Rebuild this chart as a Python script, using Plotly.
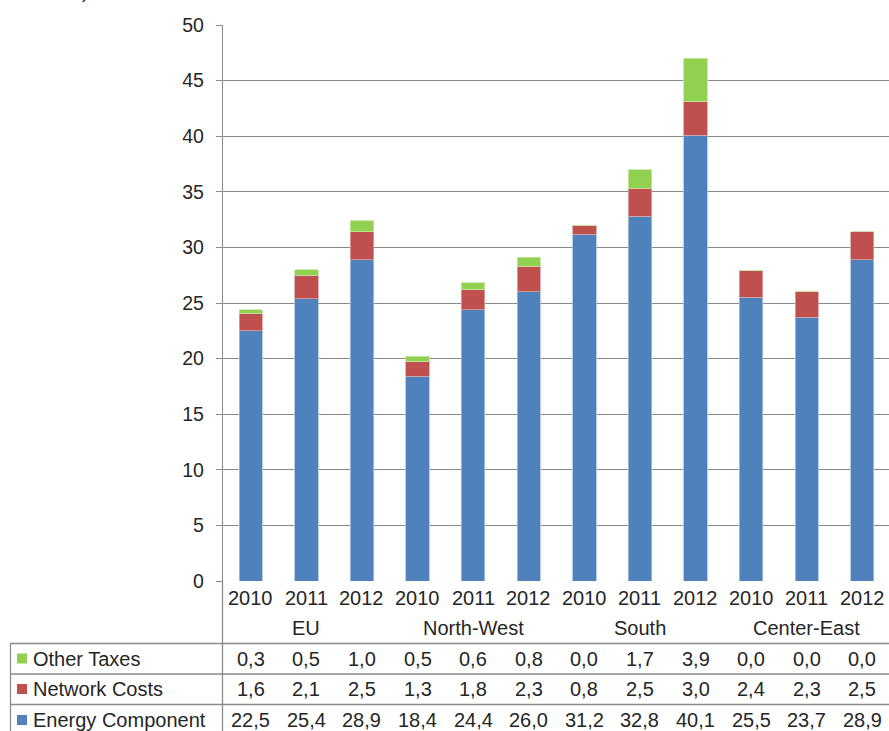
import plotly.graph_objects as go

# Regional price components by year (values shown in the data table)
years = ["2010", "2011", "2012"] * 4
regions = ["EU", "North-West", "South", "Center-East"]
other_taxes = [0.3, 0.5, 1.0, 0.5, 0.6, 0.8, 0.0, 1.7, 3.9, 0.0, 0.0, 0.0]
network_costs = [1.6, 2.1, 2.5, 1.3, 1.8, 2.3, 0.8, 2.5, 3.0, 2.4, 2.3, 2.5]
energy_component = [22.5, 25.4, 28.9, 18.4, 24.4, 26.0, 31.2, 32.8, 40.1, 25.5, 23.7, 28.9]
y_ticks = [0, 5, 10, 15, 20, 25, 30, 35, 40, 45, 50]

W, H = 889, 731
FONT = "Liberation Sans, Arial, sans-serif"
TXT = "#262626"
GRID = "#8a8a8a"
BLUE, RED, GREEN = "#4F81BD", "#C0504D", "#92D050"
TABLE_SIZE = 20

x_idx = list(range(len(years)))


def px_x(p):
    return p / W


def px_y(p):
    return 1 - p / H


series = [
    ("Energy Component", energy_component, BLUE, "#a7c0de"),
    ("Network Costs", network_costs, RED, "#dba3a2"),
    ("Other Taxes", other_taxes, GREEN, "#c6e8a4"),
]

fig = go.Figure()
for name, vals, col, edge in series:
    fig.add_trace(go.Bar(
        x=x_idx, y=vals, name=name,
        marker=dict(color=col, line=dict(color=edge, width=0.8)),
        width=0.42,
    ))

plot_left, plot_top, plot_bottom = 223, 25, 581

fig.update_layout(
    barmode="stack",
    width=W, height=H,
    margin=dict(l=0, r=0, t=0, b=0, autoexpand=False),
    paper_bgcolor="white", plot_bgcolor="white",
    showlegend=False,
    font=dict(family=FONT, size=19, color=TXT),
    xaxis=dict(
        domain=[px_x(plot_left), 1.0],
        range=[-0.5, 11.48],
        showticklabels=False, showgrid=False, zeroline=False,
        showline=False, fixedrange=True,
    ),
    yaxis=dict(
        domain=[px_y(plot_bottom), px_y(plot_top)],
        range=[0, 50],
        tickvals=y_ticks,
        ticks="outside", ticklen=6, tickcolor=GRID, tickwidth=1.3,
        ticklabelstandoff=8,
        showgrid=True, gridcolor=GRID, gridwidth=1.3,
        showline=True, linecolor=GRID, linewidth=1.3,
        zeroline=False,
        tickfont=dict(size=19.5, color=TXT),
    ),
)

shapes = []
# vertical axis line continuing through the data table
shapes.append(dict(type="line", xref="paper", yref="paper",
                   x0=px_x(222.5), x1=px_x(222.5), y0=px_y(581), y1=0,
                   line=dict(color=GRID, width=1.3)))
# table row borders
for yy in [643.5, 674, 704.5]:
    shapes.append(dict(type="line", xref="paper", yref="paper",
                       x0=px_x(10), x1=1, y0=px_y(yy), y1=px_y(yy),
                       line=dict(color=GRID, width=1.3)))
# left table border
shapes.append(dict(type="line", xref="paper", yref="paper",
                   x0=px_x(10.5), x1=px_x(10.5), y0=px_y(643.5), y1=0,
                   line=dict(color=GRID, width=1.3)))

annotations = []
# year labels
for i, yr in enumerate(years):
    annotations.append(dict(x=i, y=px_y(598), xref="x", yref="paper", text=yr,
                            showarrow=False, font=dict(size=TABLE_SIZE, color=TXT),
                            xanchor="center", yanchor="middle"))
# region labels centred under each group of three
for g, reg in enumerate(regions):
    annotations.append(dict(x=g * 3 + 1, y=px_y(628), xref="x", yref="paper", text=reg,
                            showarrow=False, font=dict(size=TABLE_SIZE, color=TXT),
                            xanchor="center", yanchor="middle"))

table_rows = [
    ("Other Taxes", other_taxes, GREEN, 658.5),
    ("Network Costs", network_costs, RED, 689),
    ("Energy Component", energy_component, BLUE, 720),
]
for name, vals, col, yc in table_rows:
    shapes.append(dict(type="rect", xref="paper", yref="paper",
                       x0=px_x(17), x1=px_x(27), y0=px_y(yc + 5), y1=px_y(yc - 5),
                       fillcolor=col, line=dict(width=0)))
    annotations.append(dict(x=px_x(31), y=px_y(yc), xref="paper", yref="paper",
                            text=name, showarrow=False,
                            font=dict(size=TABLE_SIZE, color=TXT),
                            xanchor="left", yanchor="middle"))
    for i, v in enumerate(vals):
        annotations.append(dict(x=i, y=px_y(yc), xref="x", yref="paper",
                                text=f"{v:.1f}".replace(".", ","),
                                showarrow=False, font=dict(size=TABLE_SIZE, color=TXT),
                                xanchor="center", yanchor="middle"))

# trailing parenthesis of the clipped heading above the chart
annotations.append(dict(x=px_x(85), y=px_y(4), xref="paper", yref="paper", text=")",
                        showarrow=False, font=dict(size=19, color=TXT),
                        xanchor="center", yanchor="bottom"))

fig.update_layout(shapes=shapes, annotations=annotations)
fig.write_html("out.html")
